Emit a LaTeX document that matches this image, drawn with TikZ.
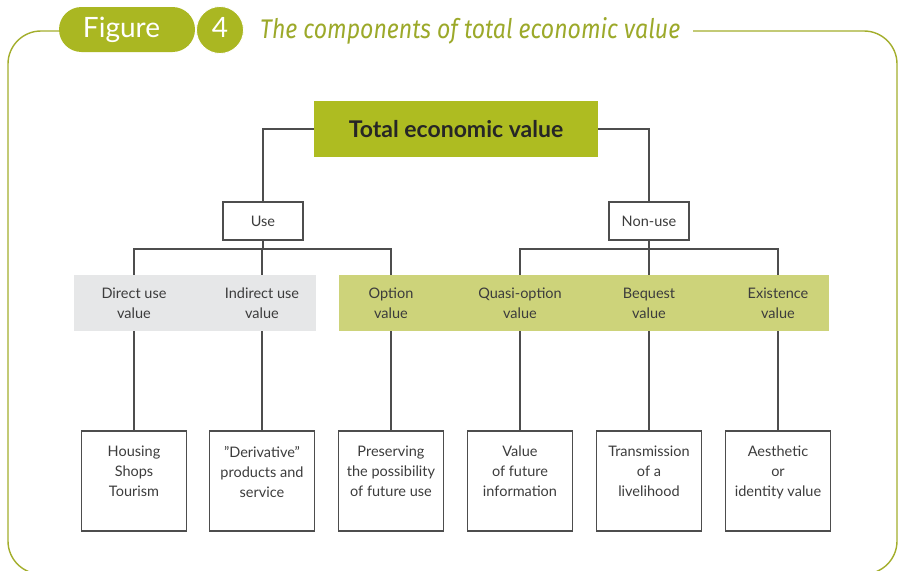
\documentclass[tikz,border=0pt]{standalone}
\usepackage{fontspec}
\setmainfont{Lato}
\newfontfamily\titlefont{Fira Sans}
\definecolor{olive}{HTML}{AAB722}
\definecolor{framecol}{HTML}{A3AE2C}
\definecolor{titlecol}{HTML}{9CA92A}
\definecolor{tevcol}{HTML}{AEBC21}
\definecolor{greenband}{HTML}{CDD37A}
\definecolor{grayband}{HTML}{E6E7E8}
\definecolor{linecol}{HTML}{4D4D4D}
\definecolor{txtcol}{HTML}{3C3C3C}
\begin{document}
\begin{tikzpicture}[x=1pt,y=-1pt,
  conn/.style={draw=linecol,line width=1.3pt},
  smallbox/.style={draw=linecol,line width=1.4pt,fill=white,minimum width=80pt,minimum height=38pt,inner sep=0pt,font=\fontsize{14.5}{20}\selectfont,text=txtcol},
  valtext/.style={align=center,minimum height=56pt,inner sep=0pt,font=\fontsize{14.5}{20}\selectfont,text=txtcol},
  band/.style={inner sep=0pt,minimum height=56pt},
  botbox/.style={draw=linecol,line width=1.4pt,minimum width=105pt,minimum height=100pt,inner sep=0pt},
  bottext/.style={align=center,inner sep=0pt,anchor=north,font=\fontsize{14.5}{20}\selectfont,text=txtcol}
]
\useasboundingbox (0,0) rectangle (899,570);
% frame
\draw[framecol,line width=1.4pt,rounded corners=33pt] (59,31) -- (8,31) -- (8,574) -- (897,574) -- (897,31) -- (693,31);
% heading
\node[fill=olive,rounded corners=22.5pt,minimum width=136pt,minimum height=45pt,inner sep=0pt] (pill) at (127,29.5) {};
\node[circle,fill=olive,draw=white,line width=0.8pt,minimum size=47pt,inner sep=0pt] (num) at (220,30) {};
\node[anchor=base,text=white,font=\fontsize{28}{30}\selectfont,inner sep=0pt] (figlbl) at (121.5,37.5) {Figure};
\node[anchor=base,text=white,font=\fontsize{28}{30}\selectfont,inner sep=0pt] (numlbl) at (220,37.5) {4};
\node[anchor=base west,text=titlecol,inner sep=0pt] (title) at (260,38) {\resizebox{420pt}{21pt}{\titlefont\itshape The components of total economic value}};
% top box
\node[fill=tevcol,minimum width=284pt,minimum height=56pt,inner sep=0pt,font=\fontsize{23}{26}\bfseries\selectfont,text=black!85] (tev) at (456,129) {Total economic value};
\node[smallbox] (use) at (263,221) {Use};
\node[smallbox] (nonuse) at (649,221) {Non-use};
% bands
\node[band,fill=grayband,minimum width=242pt] (gband) at (195,303) {};
\node[band,fill=greenband,minimum width=490pt] (yband) at (584,303) {};
% value nodes
\node[valtext] (direct) at (134,303) {Direct use\\value};
\node[valtext] (indirect) at (262,303) {Indirect use\\value};
\node[valtext] (option) at (391,303) {Option\\value};
\node[valtext] (quasi) at (520,303) {Quasi-option\\value};
\node[valtext] (bequest) at (649,303) {Bequest\\value};
\node[valtext] (exist) at (778,303) {Existence\\value};
% bottom boxes
\node[botbox] (b1) at (134,481) {};
\node[botbox] (b2) at (262,481) {};
\node[botbox] (b3) at (391,481) {};
\node[botbox] (b4) at (520,481) {};
\node[botbox] (b5) at (649,481) {};
\node[botbox] (b6) at (778,481) {};
\node[bottext] (t1) at (134,446) {Housing\\Shops\\Tourism};
\node[bottext] (t2) at (262,446) {"Derivative"\\products and\\service};
\node[bottext] (t3) at (391,446) {Preserving\\the possibility\\of future use};
\node[bottext] (t4) at (520,446) {Value\\of future\\information};
\node[bottext] (t5) at (649,446) {Transmission\\of a\\livelihood};
\node[bottext] (t6) at (778,446) {Aesthetic\\or\\identity value};
% connectors
\coordinate (ubus) at (263,249);
\coordinate (nbus) at (649,249);
\draw[conn] (tev.west) -| (use.north);
\draw[conn] (tev.east) -| (nonuse.north);
\draw[conn] (use.south) -- (ubus);
\draw[conn] (nonuse.south) -- (nbus);
\draw[conn] (direct.north) |- (ubus) -| (option.north);
\draw[conn] (indirect.north) -- (indirect.north |- ubus);
\draw[conn] (quasi.north) |- (nbus) -| (exist.north);
\draw[conn] (bequest.north) -- (nbus);
\draw[conn] (direct.south) -- (b1.north);
\draw[conn] (indirect.south) -- (b2.north);
\draw[conn] (option.south) -- (b3.north);
\draw[conn] (quasi.south) -- (b4.north);
\draw[conn] (bequest.south) -- (b5.north);
\draw[conn] (exist.south) -- (b6.north);
\end{tikzpicture}
\end{document}
